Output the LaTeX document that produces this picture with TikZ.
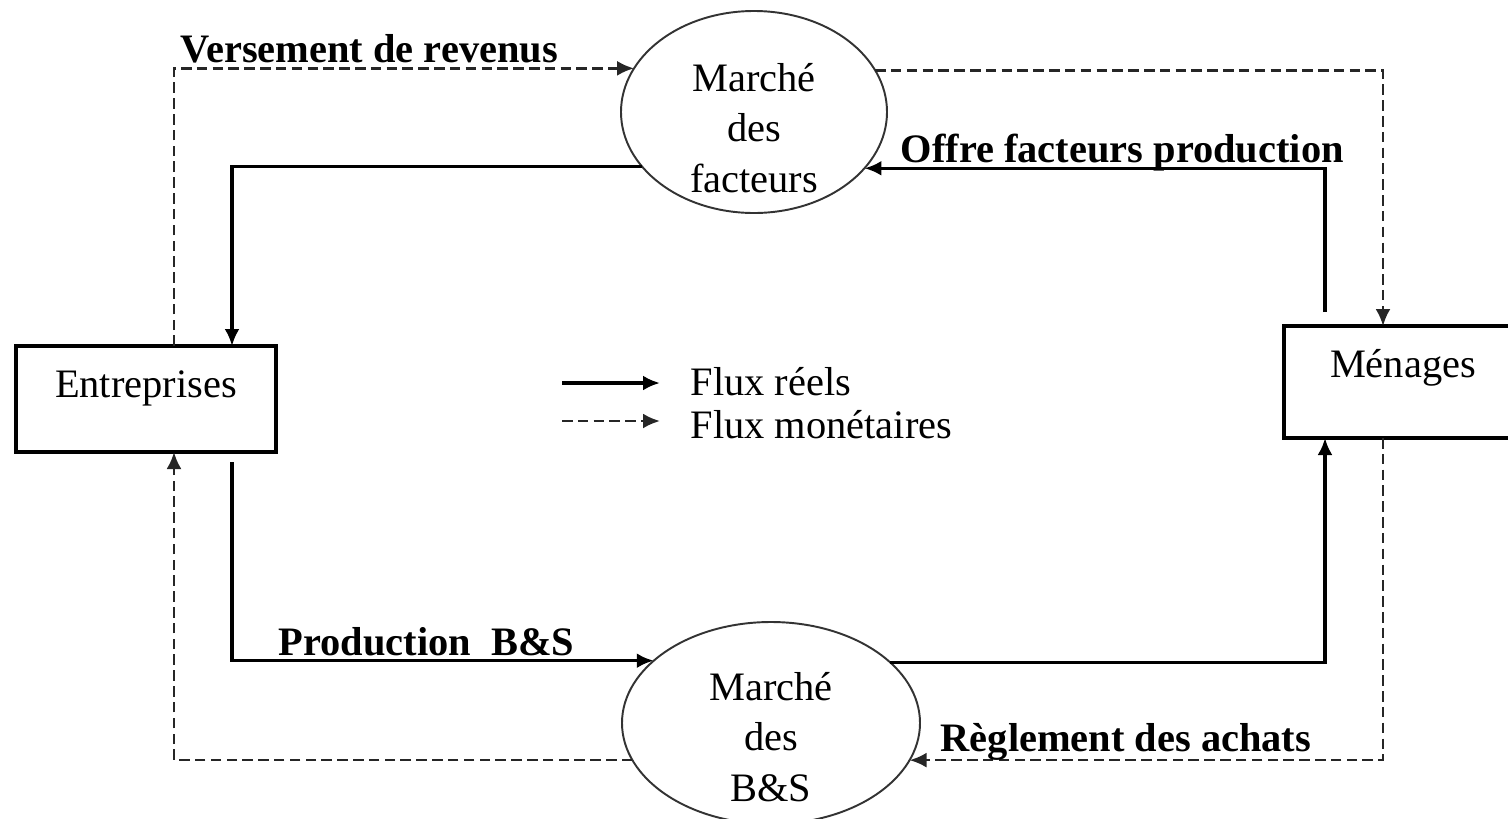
\documentclass[tikz,border=0pt]{standalone}
\usepackage{fontspec}
\setmainfont{Liberation Serif}
\usetikzlibrary{arrows.meta,shapes.geometric}

\begin{document}
\begin{tikzpicture}[thick,
    market/.style={ellipse, draw=black!80, line width=1.1pt, inner sep=0pt, outer sep=0pt, minimum height=4.04cm},
    agent/.style={rectangle, draw, line width=2pt, inner sep=0pt, outer sep=0pt},
    txt/.style={inner sep=0pt, font=\fontsize{23}{28.7}\selectfont, align=center},
    flowlbl/.style={inner sep=0pt, anchor=base west, font=\fontsize{23}{28.7}\selectfont\bfseries},
    real/.style={line width=1.9pt, -{Latex[length=3.4mm,width=3mm]}},
    money/.style={line width=1.5pt, black!85, dash pattern=on 6pt off 3pt, -{Latex[length=3.4mm,width=3mm]}}]
    \clip (0,0) rectangle (30.16,-16.36);

    % markets
    \node[market, minimum width=5.32cm] (fac) at (15.08,-2.24) {};
    \node[txt] (fac-t) at ([yshift=-0.32cm]fac.center) {Marché\\des\\facteurs};
    \node[market, minimum width=5.96cm] (bs) at (15.42,-14.46) {};
    \node[txt] (bs-t) at ([yshift=-0.28cm]bs.center) {Marché\\des\\B\&S};

    % agents
    \node[agent, minimum width=5.2cm, minimum height=2.12cm] (ent) at (2.92,-7.98) {};
    \node[txt, anchor=base] (ent-t) at ([yshift=0.04cm]ent.center) {Entreprises};
    \node[agent, minimum width=4.72cm, minimum height=2.24cm] (men) at (28.04,-7.64) {};
    \node[txt, anchor=base] (men-t) at ([xshift=0.02cm,yshift=0.1cm]men.center) {Ménages};

    % flux reels
    \draw[real] (fac.206.3) -| ([xshift=1.72cm]ent.north);
    \draw[real] ([xshift=1.72cm,yshift=-0.2cm]ent.south) |- (bs.152.2);
    \draw[real] (bs.27.8) -| ([xshift=-1.54cm]men.south);
    \draw[real] ([xshift=-1.54cm,yshift=0.28cm]men.north) |- (fac.333.2);

    % flux monetaires
    \draw[money] (bs.195.9) -| ([xshift=0.56cm]ent.south);
    \draw[money] ([xshift=0.56cm]ent.north) |- (fac.160.9);
    \draw[money] (fac.19.1) -| ([xshift=-0.38cm]men.north);
    \draw[money] ([xshift=-0.38cm]men.south) |- (bs.345);

    \node[flowlbl] (vers) at (3.6,-1.24) {Versement de revenus};
    \node[flowlbl] (offre) at (18.0,-3.24) {Offre facteurs production};
    \node[flowlbl] (prod) at (5.56,-13.1) {Production\ \ B\&S};
    \node[flowlbl] (regl) at (18.8,-15.02) {Règlement des achats};

    % legende
    \node[txt, anchor=base west] (reel) at (13.8,-7.9) {Flux réels};
    \node[txt, anchor=base west] (mon) at (13.8,-8.76) {Flux monétaires};
    \coordinate (lg1) at (11.24,-7.66);
    \coordinate (lg2) at (11.24,-8.42);
    \draw[real] (lg1) -- ([xshift=-0.6cm]reel.west |- lg1);
    \draw[money] (lg2) -- ([xshift=-0.6cm]mon.west |- lg2);
\end{tikzpicture}
\end{document}
